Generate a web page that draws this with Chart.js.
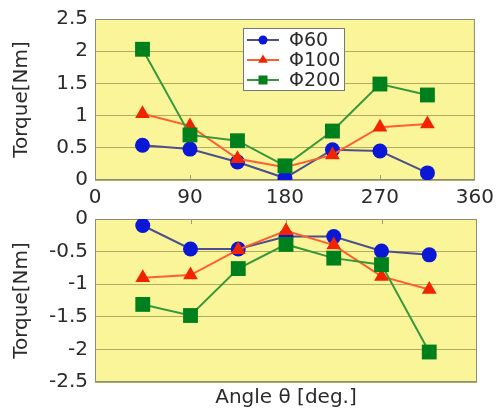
<!DOCTYPE html>
<html lang="en">
<head>
<meta charset="UTF-8">
<title>Torque vs angle</title>
<script src="https://cdn.jsdelivr.net/npm/chart.js"></script>
<style>
  html, body { margin: 0; padding: 0; background: #fff; }
  #wrap { position: relative; width: 500px; height: 410px; }
  #topChart { position: absolute; left: 0; top: 0; }
  #bottomChart { position: absolute; left: 0; top: 200px; }
</style>
</head>
<body>
<div id="wrap">
  <canvas id="topChart" width="500" height="210"></canvas>
  <canvas id="bottomChart" width="500" height="210"></canvas>
</div>
<script>
// angle of each measurement, deg
const angles = [45, 90, 135, 180, 225, 270, 315];
const seriesNames = ['Φ60', 'Φ100', 'Φ200'];

// positive torque (upper panel), Nm
const phi60Pos  = [0.54, 0.48, 0.28, 0.03, 0.47, 0.45, 0.11];
const phi100Pos = [1.03, 0.84, 0.33, 0.20, 0.39, 0.82, 0.87];
const phi200Pos = [2.03, 0.70, 0.61, 0.22, 0.76, 1.49, 1.32];

// negative torque (lower panel), Nm
const phi60Neg  = [-0.10, -0.46, -0.46, -0.27, -0.27, -0.49, -0.55];
const phi100Neg = [-0.90, -0.86, -0.47, -0.18, -0.40, -0.88, -1.08];
const phi200Neg = [-1.31, -1.48, -0.76, -0.39, -0.60, -0.70, -2.04];

const xTicks = [0, 90, 180, 270, 360];

const FONT = 'DejaVu Sans';
const TXT = '#2b2b2b';
const plotBg = '#fbf59a';
const gridCol = '#b3aa62';
const frameCol = '#8c8c7a';

const styles = [
  { line: '#4b4f8c', mark: '#0a18d6', shape: 'circle', r: 7.5 },
  { line: '#ff5e2e', mark: '#f02400', shape: 'triangle', r: 8.5 },
  { line: '#35983a', mark: '#00801c', shape: 'rect', r: 10.5 }
];

function makeSets(lists) {
  return lists.map((vals, i) => ({
    label: seriesNames[i],
    data: angles.map((a, k) => ({ x: a, y: vals[k] })),
    borderColor: styles[i].line,
    borderWidth: 2,
    backgroundColor: styles[i].mark,
    pointBackgroundColor: styles[i].mark,
    pointBorderColor: styles[i].mark,
    pointBorderWidth: 0,
    pointStyle: styles[i].shape,
    pointRadius: styles[i].r,
    pointHoverRadius: styles[i].r,
    order: 3 - i,
    tension: 0
  }));
}

// yellow plot area, frame and the little inner ticks
const framePlugin = {
  id: 'frame',
  beforeDraw(chart) {
    const { ctx, chartArea: a } = chart;
    ctx.save();
    ctx.fillStyle = plotBg;
    ctx.fillRect(a.left, a.top, a.width, a.height);
    ctx.restore();
  },
  beforeDatasetsDraw(chart, args, opts) {
    const { ctx, chartArea: a } = chart;
    const xs = chart.scales.x;
    ctx.save();
    ctx.strokeStyle = frameCol;
    ctx.lineWidth = 1;
    ctx.strokeRect(a.left + 0.5, a.top + 0.5, a.width - 1, a.height - 1);
    ctx.strokeStyle = '#9a9a80';
    [90, 180, 270].forEach(v => {
      const px = Math.round(xs.getPixelForValue(v)) + 0.5;
      ctx.beginPath();
      if (opts.tickSide === 'bottom') {
        ctx.moveTo(px, a.bottom); ctx.lineTo(px, a.bottom - 5);
      } else {
        ctx.moveTo(px, a.top); ctx.lineTo(px, a.top + 5);
      }
      ctx.stroke();
    });
    ctx.restore();
  }
};

function drawMark(ctx, shape, x, y, r, col) {
  ctx.fillStyle = col;
  ctx.beginPath();
  if (shape === 'circle') {
    ctx.arc(x, y, r, 0, Math.PI * 2);
  } else if (shape === 'triangle') {
    ctx.moveTo(x, y - r);
    ctx.lineTo(x + r * 0.87, y + r * 0.5);
    ctx.lineTo(x - r * 0.87, y + r * 0.5);
    ctx.closePath();
  } else {
    ctx.rect(x - r, y - r, 2 * r, 2 * r);
  }
  ctx.fill();
}

// legend box inside the upper panel
const legendPlugin = {
  id: 'boxLegend',
  afterDraw(chart) {
    const ctx = chart.ctx;
    const bx = 243, by = 28, bw = 101, bh = 62;
    ctx.save();
    ctx.fillStyle = '#ffffff';
    ctx.fillRect(bx, by, bw, bh);
    ctx.strokeStyle = '#777';
    ctx.lineWidth = 1;
    ctx.strokeRect(bx + 0.5, by + 0.5, bw, bh);
    const markR = [4.5, 5.5, 4.5];
    chart.data.datasets.forEach((ds, i) => {
      const y = by + 12 + i * 20;
      ctx.strokeStyle = ds.borderColor;
      ctx.lineWidth = 2;
      ctx.beginPath();
      ctx.moveTo(bx + 4, y);
      ctx.lineTo(bx + 36, y);
      ctx.stroke();
      drawMark(ctx, ds.pointStyle, bx + 20, y, markR[i], ds.pointBackgroundColor);
      ctx.fillStyle = TXT;
      ctx.font = '19px "' + FONT + '"';
      ctx.textBaseline = 'middle';
      ctx.textAlign = 'left';
      ctx.fillText(ds.label, bx + 46, y + 1);
    });
    ctx.restore();
  }
};

function yAxis(min, max) {
  return {
    min: min, max: max,
    afterFit(s) { s.width = 95; },
    ticks: {
      stepSize: 0.5,
      padding: 7,
      color: TXT,
      font: { family: FONT, size: 20 },
      callback: v => String(Number(v.toFixed(2)))
    },
    grid: { color: gridCol, lineWidth: 1, drawTicks: false },
    border: { display: false },
    title: {
      display: true,
      text: 'Torque[Nm]',
      color: TXT,
      font: { family: FONT, size: 20 },
      padding: { top: 10, bottom: 0 }
    }
  };
}

const common = {
  responsive: false,
  animation: false,
  devicePixelRatio: 1,
  plugins: { legend: { display: false }, tooltip: { enabled: false } }
};

new Chart(document.getElementById('topChart'), {
  type: 'line',
  data: { datasets: makeSets([phi60Pos, phi100Pos, phi200Pos]) },
  options: {
    ...common,
    layout: { padding: { top: 18, right: 23, left: 0, bottom: 0 } },
    plugins: { ...common.plugins, frame: { tickSide: 'bottom' } },
    scales: {
      x: {
        type: 'linear', min: 0, max: 360,
        afterFit(s) { s.height = 30; },
        afterBuildTicks(s) { s.ticks = xTicks.map(v => ({ value: v })); },
        ticks: { padding: 6, color: TXT, font: { family: FONT, size: 20 } },
        grid: { display: false, drawTicks: false },
        border: { display: false }
      },
      y: yAxis(0, 2.5)
    }
  },
  plugins: [framePlugin, legendPlugin]
});

new Chart(document.getElementById('bottomChart'), {
  type: 'line',
  data: { datasets: makeSets([phi60Neg, phi100Neg, phi200Neg]) },
  options: {
    ...common,
    layout: { padding: { top: 17, right: 23, left: 0, bottom: 0 } },
    plugins: { ...common.plugins, frame: { tickSide: 'top' } },
    scales: {
      x: {
        type: 'linear', min: 0, max: 360,
        afterFit(s) { s.height = 28; },
        ticks: { display: false, stepSize: 90 },
        grid: { display: false, drawTicks: false },
        border: { display: false },
        title: {
          display: true,
          text: 'Angle θ [deg.]',
          color: TXT,
          font: { family: FONT, size: 20 },
          padding: { top: 0, bottom: 0 }
        }
      },
      y: yAxis(-2.5, 0)
    }
  },
  plugins: [framePlugin]
});
</script>
</body>
</html>
